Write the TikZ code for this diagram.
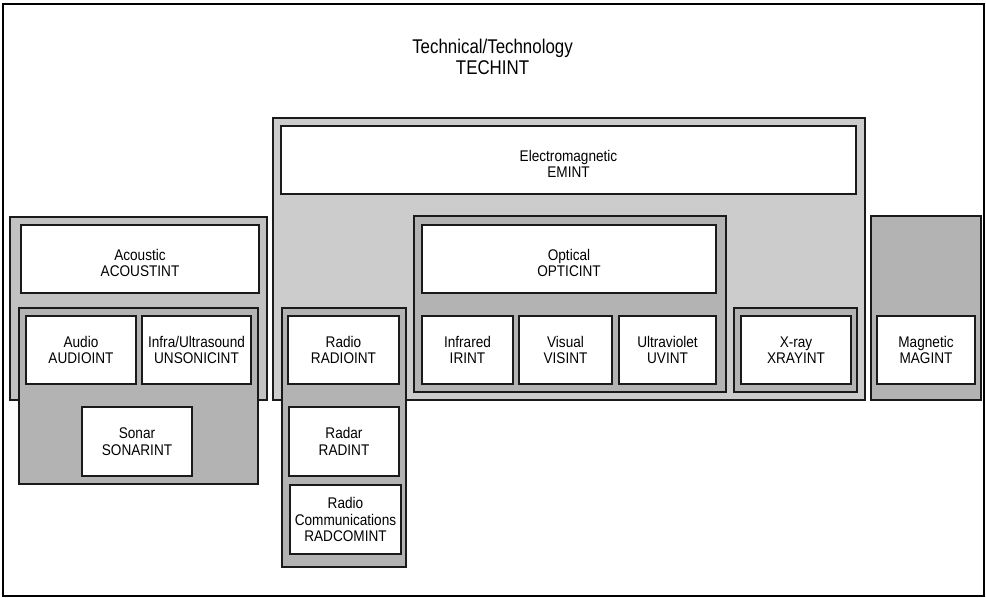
\documentclass[tikz,border=0pt]{standalone}
\usepackage{fontspec}
\setmainfont{Liberation Sans}[FakeStretch=0.85]
\newfontfamily\boxfont{Liberation Sans}[FakeStretch=0.88]
\definecolor{emgray}{HTML}{CCCCCC}
\definecolor{acgray}{HTML}{C2C2C2}
\definecolor{grpgray}{HTML}{B3B3B3}
\definecolor{edge}{HTML}{1A1A1A}

\begin{document}
\begin{tikzpicture}[
font=\boxfont\fontsize{8.8}{9.4}\selectfont,
grp/.style={draw=edge, line width=1pt, fill=grpgray, inner sep=0pt},
leaf/.style={draw=edge, line width=1pt, fill=white, align=center, inner sep=0pt},
titlebox/.style={leaf, label={[align=center, yshift=-0.08cm]center:#1}}
]

\useasboundingbox (0,0) rectangle (19.72,-11.96);

%%%%%%%%%%%%%%%%%%%%%%%%%%%%%%%%%%%%%%%%%%%%%%%%%%%%%%%%%%
% OUTER FRAME
%%%%%%%%%%%%%%%%%%%%%%%%%%%%%%%%%%%%%%%%%%%%%%%%%%%%%%%%%%

\node[
draw=black,
line width=1.1pt,
minimum width=19.62cm,
minimum height=11.84cm
](frame) at (9.87,-6.00){};

\node[align=center, font=\rmfamily\fontsize{11.3}{11.8}\selectfont]
(techint) at (9.85,-1.14)
{Technical/Technology\\TECHINT};

%%%%%%%%%%%%%%%%%%%%%%%%%%%%%%%%%%%%%%%%%%%%%%%%%%%%%%%%%%
% GROUPS
%%%%%%%%%%%%%%%%%%%%%%%%%%%%%%%%%%%%%%%%%%%%%%%%%%%%%%%%%%

\node[grp, fill=emgray, minimum width=11.84cm, minimum height=5.64cm]
(em) at (11.38,-5.18){};

\node[grp, fill=acgray, minimum width=5.14cm, minimum height=3.66cm]
(acoustic) at (2.77,-6.17){};

\node[grp, minimum width=2.20cm, minimum height=3.68cm]
(maggrp) at (18.52,-6.16){};

\node[grp, minimum width=4.78cm, minimum height=3.52cm]
(soundgrp) at (2.77,-7.92){};

\node[grp, minimum width=2.48cm, minimum height=5.18cm]
(radiogrp) at (6.88,-8.75){};

\node[grp, minimum width=6.24cm, minimum height=3.52cm]
(opticgrp) at (11.40,-6.08){};

\node[grp, minimum width=2.46cm, minimum height=1.68cm]
(xraygrp) at (15.91,-7.00){};

%%%%%%%%%%%%%%%%%%%%%%%%%%%%%%%%%%%%%%%%%%%%%%%%%%%%%%%%%%
% TITLE BOXES
%%%%%%%%%%%%%%%%%%%%%%%%%%%%%%%%%%%%%%%%%%%%%%%%%%%%%%%%%%

\node[titlebox={Electromagnetic\\EMINT}, minimum width=11.50cm, minimum height=1.36cm]
(emint) at (11.37,-3.20){};

\node[titlebox={Acoustic\\ACOUSTINT}, minimum width=4.76cm, minimum height=1.36cm]
(acoustint) at (2.80,-5.18){};

\node[titlebox={Optical\\OPTICINT}, minimum width=5.88cm, minimum height=1.36cm]
(opticint) at (11.38,-5.18){};

%%%%%%%%%%%%%%%%%%%%%%%%%%%%%%%%%%%%%%%%%%%%%%%%%%%%%%%%%%
% LEAF BOXES
%%%%%%%%%%%%%%%%%%%%%%%%%%%%%%%%%%%%%%%%%%%%%%%%%%%%%%%%%%

\node[leaf, minimum width=2.20cm, minimum height=1.36cm]
(audioint) at (1.62,-7.00)
{Audio\\AUDIOINT};

\node[leaf, minimum width=2.18cm, minimum height=1.36cm]
(unsonicint) at (3.93,-7.00)
{Infra/Ultrasound\\UNSONICINT};

\node[leaf, minimum width=2.20cm, minimum height=1.38cm]
(sonarint) at (2.74,-8.83)
{Sonar\\SONARINT};

\node[leaf, minimum width=2.22cm, minimum height=1.36cm]
(radioint) at (6.87,-7.00)
{Radio\\RADIOINT};

\node[leaf, minimum width=2.20cm, minimum height=1.38cm]
(radint) at (6.88,-8.83)
{Radar\\RADINT};

\node[leaf, minimum width=2.22cm, minimum height=1.38cm]
(radcomint) at (6.91,-10.39)
{Radio\\Communications\\RADCOMINT};

\node[leaf, minimum width=1.82cm, minimum height=1.36cm]
(irint) at (9.35,-7.00)
{Infrared\\IRINT};

\node[leaf, minimum width=1.86cm, minimum height=1.36cm]
(visint) at (11.31,-7.00)
{Visual\\VISINT};

\node[leaf, minimum width=1.94cm, minimum height=1.36cm]
(uvint) at (13.35,-7.00)
{Ultraviolet\\UVINT};

\node[leaf, minimum width=2.20cm, minimum height=1.36cm]
(xrayint) at (15.92,-7.00)
{X-ray\\XRAYINT};

\node[leaf, minimum width=1.96cm, minimum height=1.36cm]
(magint) at (18.52,-7.00)
{Magnetic\\MAGINT};

\end{tikzpicture}
\end{document}
